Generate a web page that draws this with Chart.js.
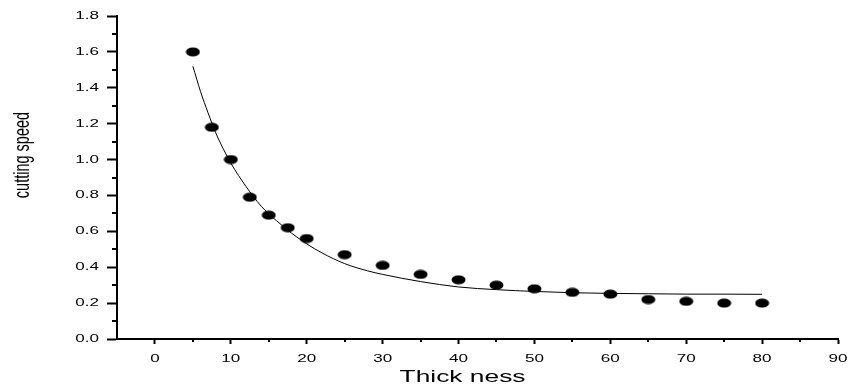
<!DOCTYPE html>
<html>
<head>
<meta charset="utf-8">
<script src="https://cdn.jsdelivr.net/npm/chart.js@4/dist/chart.umd.min.js"></script>
<style>
    body { margin: 0; background: #fff; }
    #wrap { width: 851px; height: 386px; }
</style>
</head>
<body>
<div id="wrap"><canvas id="speedChart"></canvas></div>
<script>
// measured points
const thickness = [5, 7.5, 10, 12.5, 15, 17.5, 20, 25, 30, 35, 40, 45, 50, 55, 60, 65, 70, 75, 80];
const cuttingSpeed = [1.6, 1.18, 1.0, 0.79, 0.69, 0.62, 0.56, 0.47, 0.41, 0.36, 0.33, 0.30, 0.28, 0.26, 0.25, 0.22, 0.21, 0.20, 0.20];

// fitted curve
const fitX = [5, 6, 7, 8, 9, 10, 12, 14, 16, 18, 20, 22, 25, 28, 30, 35, 40, 45, 50, 55, 60, 65, 70, 75, 80];
const fitY = [1.52, 1.38, 1.26, 1.15, 1.06, 0.98, 0.85, 0.74, 0.66, 0.59, 0.53, 0.48, 0.42, 0.38, 0.36, 0.32, 0.29, 0.275, 0.265, 0.258, 0.254, 0.252, 0.25, 0.25, 0.249];

const xTicks = [0, 10, 20, 30, 40, 50, 60, 70, 80, 90];
const xMinor = [5, 15, 25, 35, 45, 55, 65, 75, 85];
const yTicks = [0, 0.2, 0.4, 0.6, 0.8, 1.0, 1.2, 1.4, 1.6, 1.8];
const yMinor = [0.1, 0.3, 0.5, 0.7, 0.9, 1.1, 1.3, 1.5, 1.7];

const xTitle = 'Thick ness';
const yTitle = 'cutting speed';
const STRETCH = 1.55; // the original text is wide, squashed look

// flat dot marker
const dot = document.createElement('canvas');
dot.width = 15; dot.height = 10;
const dctx = dot.getContext('2d');
dctx.fillStyle = '#000';
dctx.beginPath();
dctx.ellipse(7.5, 5, 7, 4.6, 0, 0, Math.PI * 2);
dctx.fill();

// minor ticks + stretched text
const axisText = {
    id: 'axisText',
    afterDraw(chart) {
        const ctx = chart.ctx;
        const xs = chart.scales.x, ys = chart.scales.y;
        const area = chart.chartArea;
        ctx.save();
        ctx.strokeStyle = '#000';
        ctx.lineWidth = 2;
        xMinor.forEach(v => {
            const px = Math.round(xs.getPixelForValue(v));
            ctx.beginPath(); ctx.moveTo(px, area.bottom); ctx.lineTo(px, area.bottom + 3); ctx.stroke();
        });
        yMinor.forEach(v => {
            const py = Math.round(ys.getPixelForValue(v));
            ctx.beginPath(); ctx.moveTo(area.left, py); ctx.lineTo(area.left - 5, py); ctx.stroke();
        });

        ctx.fillStyle = '#000';
        ctx.font = '11px "Liberation Sans", Arial, sans-serif';
        ctx.textBaseline = 'middle';
        ctx.textAlign = 'right';
        yTicks.forEach(v => {
            const py = ys.getPixelForValue(v);
            ctx.save();
            ctx.translate(area.left - 18, py);
            ctx.scale(STRETCH, 1);
            ctx.fillText(v.toFixed(1), 0, 0);
            ctx.restore();
        });
        ctx.textAlign = 'center';
        ctx.textBaseline = 'alphabetic';
        xTicks.forEach(v => {
            const px = xs.getPixelForValue(v);
            ctx.save();
            ctx.translate(px, area.bottom + 23);
            ctx.scale(STRETCH, 1);
            ctx.fillText(String(v), 0, 0);
            ctx.restore();
        });

        ctx.font = '17px "Liberation Sans", Arial, sans-serif';
        ctx.save();
        ctx.translate(xs.getPixelForValue(40) + 4, area.bottom + 43);
        ctx.scale(STRETCH, 1);
        ctx.fillText(xTitle, 0, 0);
        ctx.restore();

        ctx.font = '14.5px "Liberation Sans", Arial, sans-serif';
        ctx.textBaseline = 'middle';
        ctx.save();
        ctx.translate(23, 155);
        ctx.scale(STRETCH, 1);
        ctx.rotate(-Math.PI / 2);
        ctx.fillText(yTitle, 0, 0);
        ctx.restore();
        ctx.restore();
    }
};

new Chart(document.getElementById('speedChart'), {
    type: 'scatter',
    data: {
        datasets: [
            {
                label: 'fit',
                type: 'line',
                data: fitX.map((x, i) => ({ x: x, y: fitY[i] })),
                borderColor: '#000',
                borderWidth: 1,
                pointRadius: 0,
                cubicInterpolationMode: 'monotone',
                fill: false
            },
            {
                label: 'measured',
                data: thickness.map((x, i) => ({ x: x, y: cuttingSpeed[i] })),
                pointStyle: dot,
                clip: false
            }
        ]
    },
    options: {
        responsive: true,
        maintainAspectRatio: false,
        animation: false,
        layout: { padding: { top: 16, right: 13, left: 0, bottom: 0 } },
        plugins: {
            legend: { display: false },
            tooltip: { enabled: false }
        },
        scales: {
            x: {
                type: 'linear',
                min: -5,
                max: 90,
                afterBuildTicks: s => { s.ticks = xTicks.map(v => ({ value: v })); },
                afterFit: s => { s.height = 47; },
                ticks: { display: false },
                grid: { drawOnChartArea: false, tickLength: 5, tickWidth: 2, tickColor: '#000' },
                border: { color: '#000', width: 2 }
            },
            y: {
                min: 0,
                max: 1.8,
                afterBuildTicks: s => { s.ticks = yTicks.map(v => ({ value: v })); },
                afterFit: s => { s.width = 117; },
                ticks: { display: false },
                grid: { drawOnChartArea: false, tickLength: 10, tickWidth: 2, tickColor: '#000' },
                border: { color: '#000', width: 2 }
            }
        }
    },
    plugins: [axisText]
});
</script>
</body>
</html>
